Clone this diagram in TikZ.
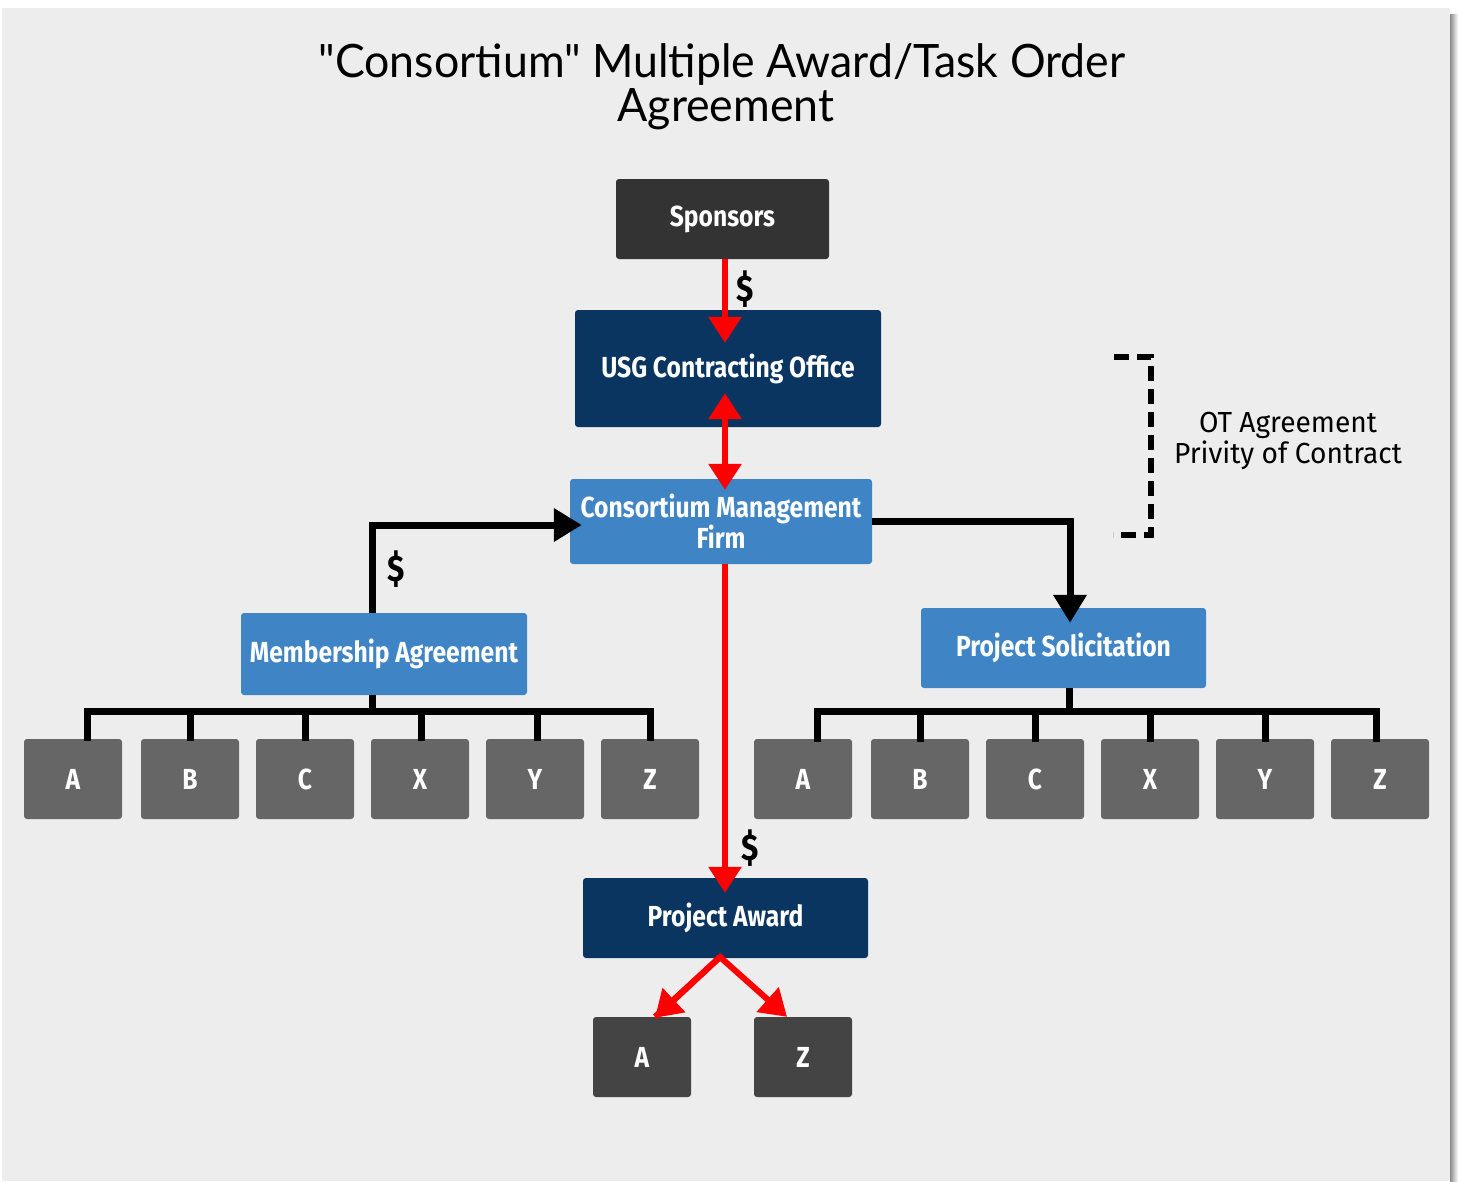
\documentclass[tikz,border=0pt]{standalone}
\usepackage{fontspec}
\setmainfont{Lato}
\newfontfamily\titlefont{Lato}[Ligatures=TeXOff, FakeStretch=0.97]
\newfontfamily\condb{Fira Sans}[FakeStretch=0.85]
\newfontfamily\condr{Fira Sans}[FakeStretch=0.97]
\usetikzlibrary{arrows.meta,calc}
\definecolor{bgpanel}{HTML}{EDEDED}
\definecolor{navy}{HTML}{0B3561}
\definecolor{midblue}{HTML}{3F85C6}
\definecolor{darkbox}{HTML}{333333}
\definecolor{leafgray}{HTML}{666666}
\definecolor{leafdark}{HTML}{444444}
\definecolor{arrowred}{HTML}{FF0000}
\newcommand\boxfont{\condb\bfseries\fontsize{29}{28}\selectfont}
\tikzset{
  boxnode/.style={rectangle, rounded corners=3pt, text=white, font=\boxfont, inner sep=0pt, align=center},
  sponsorbox/.style={boxnode, fill=darkbox, minimum width=213pt, minimum height=80pt},
  navybox/.style={boxnode, fill=navy, minimum height=80pt},
  bluebox/.style={boxnode, fill=midblue, minimum height=82pt},
  leaf/.style={boxnode, fill=leafgray, minimum width=98pt, minimum height=80pt},
  leafd/.style={boxnode, fill=leafdark, minimum width=98pt, minimum height=80pt},
  redarrow/.style={draw=arrowred, line width=6pt, -{Triangle[width=32pt,length=26pt]}},
  redboth/.style={draw=arrowred, line width=6pt, {Triangle[width=32pt,length=26pt]}-{Triangle[width=32pt,length=26pt]}},
  blackarrow/.style={draw=black, line width=7pt, -{Triangle[width=32pt,length=28pt]}},
  treeline/.style={draw=black, line width=7pt},
  dollar/.style={font=\condb\bfseries\fontsize{37}{37}\selectfont, text=black, inner sep=0pt},
  titletext/.style={anchor=base, font=\titlefont\fontsize{46}{44}\selectfont},
}
\begin{document}
\begin{tikzpicture}[x=1pt,y=-1pt]
\useasboundingbox (0,0) rectangle (1458,1181);
\fill[white] (0,0) rectangle (1458,1181);
\fill[bgpanel] (2,8) rectangle (1450,1181);
\shade[left color=black!45, right color=white] (1450,14) rectangle (1458,1181);

% title
\node[titletext] (title1) at (722,77) {"Consortium" Multiple Award/Task Order};
\node[titletext] (title2) at (726,121) {Agreement};

% main boxes
\node[sponsorbox] (sp) at (722.5,219) {Sponsors};
\node[navybox, minimum width=306pt, minimum height=117pt] (usg) at (728,368.5) {USG Contracting Office};
\node[bluebox, minimum width=302pt, minimum height=85pt] (cmf) at (721,521.5) {Consortium Management\\Firm};
\node[bluebox, minimum width=286pt] (ma) at (384,654) {Membership Agreement};
\node[bluebox, minimum width=285pt, minimum height=80pt] (ps) at (1063.5,648) {Project Solicitation};
\node[navybox, minimum width=285pt] (pa) at (725.5,918) {Project Award};

% leaves left
\node[leaf] (la) at (73,779) {A};
\node[leaf] (lb) at (190,779) {B};
\node[leaf] (lc) at (305,779) {C};
\node[leaf] (lx) at (420,779) {X};
\node[leaf] (ly) at (535,779) {Y};
\node[leaf] (lz) at (650,779) {Z};
% leaves right
\node[leaf] (ra) at (803,779) {A};
\node[leaf] (rb) at (920,779) {B};
\node[leaf] (rc) at (1035,779) {C};
\node[leaf] (rx) at (1150,779) {X};
\node[leaf] (ry) at (1265,779) {Y};
\node[leaf] (rz) at (1380,779) {Z};
% bottom leaves
\node[leafd] (ba) at (642,1057) {A};
\node[leafd] (bz) at (803,1057) {Z};

% red connectors
\coordinate (redx) at (725,0);
\draw[redarrow, shorten >=-33pt] (sp.south -| redx) -- (usg.north -| redx);
\draw[redboth, shorten <=-34pt, shorten >=-11pt] (usg.south -| redx) -- (cmf.north -| redx);
\draw[redarrow, shorten >=-15pt] (cmf.south -| redx) -- (pa.north -| redx);
\coordinate (pav) at (720,957);
\draw[redarrow, line join=miter] ($(ba.north)+(13,0)$) -- (pav) -- ($(bz.north)+(-16,0)$);
\draw[redarrow] (pav) -- ($(ba.north)+(13,1)$);

% dollars
\node[dollar] (d1) at (745,289) {\$};
\node[dollar] (d2) at (396,569) {\$};
\node[dollar] (d3) at (750,848) {\$};

% black connectors
\draw[blackarrow, shorten >=-12pt] ($(ma.north)+(-12,0)$) |- ($(cmf.west)+(0,3.5)$);
\draw[blackarrow, shorten >=-15pt] (cmf.east) -| ($(ps.north)+(6.5,0)$);

% left tree
\coordinate (lbus) at (372,711);
\draw[treeline] (ma.south -| lbus) -- (lbus);
\draw[treeline] ($(la.north)+(14,2)$) |- (lbus) -| ($(lz.north)+(0,2)$);
\foreach \n/\dx in {lb/0,lc/0,lx/1,ly/2}
  \draw[treeline] ($(\n.north)+(\dx,2)$) |- (lbus);
% right tree
\coordinate (rbus) at (1069,711);
\draw[treeline] (ps.south -| rbus) -- (rbus);
\draw[treeline] ($(ra.north)+(14,3)$) |- (rbus) -| ($(rz.north)+(-4,3)$);
\foreach \n/\dx in {rb/0,rc/0,rx/0,ry/0}
  \draw[treeline] ($(\n.north)+(\dx,3)$) |- (rbus);

% OT bracket
\coordinate (brt) at (1114,357);
\coordinate (brb) at (1113,535);
\draw[black, line width=6.5pt, dash pattern=on 15pt off 8pt] (brt) -- (1151,357) -- (1151,535) -- (brb);
\node[font=\condr\fontsize{29}{31}\selectfont, align=center, inner sep=0pt] (ot) at (1288,441) {OT Agreement\\Privity of Contract};
\end{tikzpicture}
\end{document}
